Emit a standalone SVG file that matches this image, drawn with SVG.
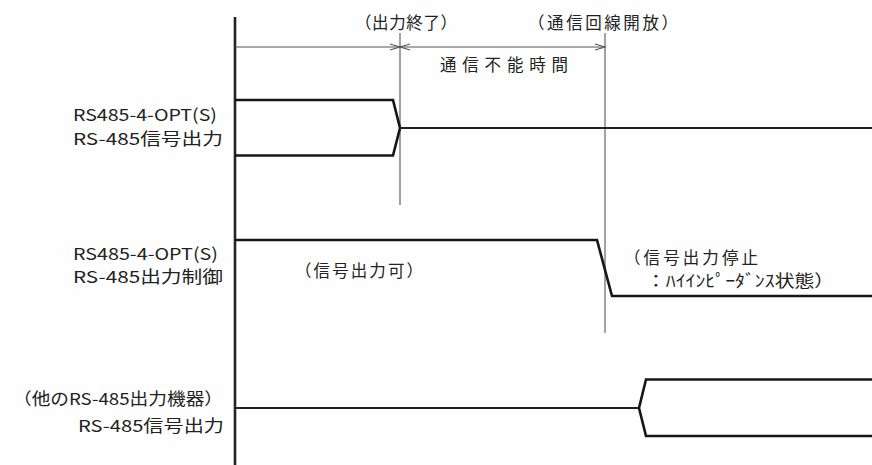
<svg xmlns="http://www.w3.org/2000/svg" width="872" height="465" viewBox="0 0 872 465">
<style>
text{font-family:"Noto Sans CJK JP","Noto Sans CJK SC",sans-serif;font-size:16.5px;fill:#222}
.axis{stroke:#222;stroke-width:2.6;fill:none}
.dim{stroke:#555;stroke-width:1.1;fill:none}
.sig{stroke:#151515;stroke-width:2.6;fill:none;stroke-linejoin:miter}
.sigt{stroke:#222;stroke-width:2;fill:none}
</style>
<rect width="872" height="465" fill="#fdfefd"/>
<g id="connectors">
<line class="axis" x1="235" y1="17" x2="235" y2="465"/>
<line class="dim" x1="235" y1="47" x2="605" y2="47"/>
<line class="dim" x1="400" y1="33" x2="400" y2="205"/>
<line class="dim" x1="605" y1="33" x2="605" y2="333"/>
<polyline class="dim" points="390,44 400,47 390,50"/>
<polyline class="dim" points="410,44 400,47 410,50"/>
<polyline class="dim" points="595,44 605,47 595,50"/>
</g>
<g id="signal1">
<polyline class="sig" points="235,100 393,100 400,128 393,155.5 235,155.5"/>
<line class="sigt" x1="400" y1="128" x2="872" y2="128"/>
</g>
<g id="signal2">
<polyline class="sig" points="235,240 597,240 612,296 872,296"/>
</g>
<g id="signal3">
<line class="sigt" x1="235" y1="408" x2="639" y2="408"/>
<polyline class="sig" points="872,379.5 646,379.5 639,408 646,436 872,436"/>
</g>
<g id="labels-top">
<text x="355" y="29" textLength="102" lengthAdjust="spacing">（出力終了）</text>
<text x="528" y="29" textLength="150" lengthAdjust="spacing">（通信回線開放）</text>
<text x="440" y="71" textLength="128" lengthAdjust="spacing">通信不能時間</text>
</g>
<g id="label1">
<text x="73" y="121" textLength="144" lengthAdjust="spacingAndGlyphs">RS485-4-OPT(S)</text>
<text x="73" y="145" textLength="150" lengthAdjust="spacingAndGlyphs">RS-485信号出力</text>
</g>
<g id="label2">
<text x="73" y="260" textLength="145" lengthAdjust="spacingAndGlyphs">RS485-4-OPT(S)</text>
<text x="73" y="283" textLength="150" lengthAdjust="spacingAndGlyphs">RS-485出力制御</text>
<text x="295" y="277" textLength="128" lengthAdjust="spacing">（信号出力可）</text>
<text x="624" y="264" textLength="134" lengthAdjust="spacing">（信号出力停止</text>
<text x="646" y="287" textLength="188" lengthAdjust="spacingAndGlyphs">：ﾊｲｲﾝﾋﾟｰﾀﾞﾝｽ状態）</text>
</g>
<g id="label3">
<text x="13" y="405" textLength="210" lengthAdjust="spacingAndGlyphs">（他のRS-485出力機器）</text>
<text x="78" y="432" textLength="146" lengthAdjust="spacingAndGlyphs">RS-485信号出力</text>
</g>
</svg>
